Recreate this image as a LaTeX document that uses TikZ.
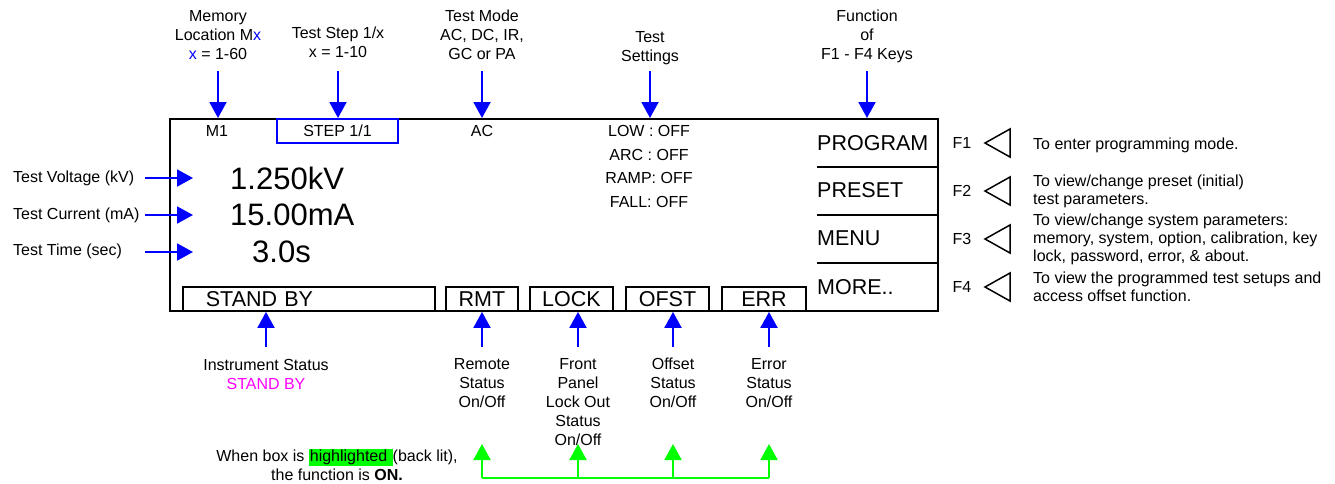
\documentclass[tikz,border=0pt]{standalone}
\usepackage{fontspec}
\setmainfont{Liberation Sans}
\usepackage{xcolor}
\usetikzlibrary{arrows.meta,calc}
\definecolor{arrblue}{HTML}{0000FF}
\definecolor{pink}{HTML}{FF00FF}
\definecolor{lit}{HTML}{00FF00}
\setlength{\fboxsep}{1pt}
\tikzset{
  frame/.style={draw=black, line width=2pt},
  stbox/.style={draw=black, line width=1.8pt, minimum height=24pt, inner sep=0pt, font=\fontsize{21.5}{24}\selectfont},
  barrow/.style={draw=arrblue, line width=2pt, -{Triangle[length=16pt,width=17pt]}},
  garrow/.style={draw=lit, line width=2pt, -{Triangle[length=16pt,width=17pt]}},
  gline/.style={draw=lit, line width=2pt},
  lab/.style={font=\fontsize{16}{18.8}\selectfont, align=center, inner sep=0pt},
  labl/.style={font=\fontsize{16}{18}\selectfont, align=left, anchor=west, inner sep=0pt},
  scrtxt/.style={font=\fontsize{16}{18}\selectfont, inner sep=0pt},
  big/.style={font=\fontsize{31}{36}\selectfont, anchor=west, inner sep=0pt},
  key/.style={font=\fontsize{21.5}{24}\selectfont, anchor=west, inner sep=0pt},
  tri/.style={draw=black, line width=1.5pt, line join=miter},
}

\begin{document}
\begin{tikzpicture}[x=1pt,y=-1pt]
  \useasboundingbox (0,0) rectangle (1335,483);

  \node[frame, minimum width=768pt, minimum height=192pt, inner sep=0pt] (screen) at (554,215) {};

  \node[lab] (memlab) at (218,35) {Memory\\Location M\textcolor{arrblue}{x}\\\textcolor{arrblue}{x} = 1-60};
  \node[lab] (steplab) at (338,42.5) {Test Step 1/x\\x = 1-10};
  \node[lab] (modelab) at (482,35) {Test Mode\\AC, DC, IR,\\GC or PA};
  \node[lab] (setlab) at (650,48.5) {Test\\Settings};
  \node[lab] (funlab) at (867,36.5) {Function\\of\\F1 - F4 Keys};

  \coordinate (tstart) at (0,71);
  \draw[barrow] (memlab |- tstart) -- (memlab |- screen.north);
  \draw[barrow] (steplab |- tstart) -- (steplab |- screen.north);
  \draw[barrow] (modelab |- tstart) -- (modelab |- screen.north);
  \draw[barrow] (setlab |- tstart) -- (setlab |- screen.north);
  \draw[barrow] (funlab |- tstart) -- (funlab |- screen.north);

  \node[scrtxt] (m1) at (217,131) {M1};
  \node[draw=arrblue, line width=2pt, minimum width=121pt, minimum height=24pt, inner sep=0pt, font=\fontsize{16}{18}\selectfont] (step) at (337.5,131) {STEP 1/1};
  \node[scrtxt] (ac) at (482,131) {AC};
  \node[scrtxt, align=center, font=\fontsize{16}{23.7}\selectfont] (sets) at (649,166.5) {LOW : OFF\\ARC : OFF\\RAMP: OFF\\FALL: OFF};

  \node[big] (volt) at (230,178) {1.250kV};
  \node[big] (curr) at (230,215) {15.00mA};
  \node[big] (time) at (252,252) {3.0s};

  \node[labl] (lv) at (13,178) {Test Voltage (kV)};
  \node[labl] (lc) at (13,215) {Test Current (mA)};
  \node[labl] (lt) at (13,251) {Test Time (sec)};
  \coordinate (lstart) at (145,0);
  \coordinate (lend) at (193,0);
  \draw[barrow] (lstart |- volt) -- (lend |- volt);
  \draw[barrow] (lstart |- curr) -- (lend |- curr);
  \draw[barrow] (lstart |- time) -- (lend |- time);

  \coordinate (dv1) at (817,167);
  \coordinate (dv2) at (817,215);
  \coordinate (dv3) at (817,263);
  \draw[frame] (dv1) -- (dv1 -| screen.east);
  \draw[frame] (dv2) -- (dv2 -| screen.east);
  \draw[frame] (dv3) -- (dv3 -| screen.east);
  \node[key] (prog) at (817,143) {PROGRAM};
  \node[key] (pres) at (817,190) {PRESET};
  \node[key] (menu) at (817,238) {MENU};
  \node[key] (more) at (817,287) {MORE..};

  \node[scrtxt] (f1) at (962,143) {F1};
  \node[scrtxt] (f2) at (962,191) {F2};
  \node[scrtxt] (f3) at (962,239) {F3};
  \node[scrtxt] (f4) at (962,287) {F4};
  \draw[tri] (985,143) -- ++(25,-14) -- ++(0,28) -- cycle;
  \draw[tri] (985,191) -- ++(25,-14) -- ++(0,28) -- cycle;
  \draw[tri] (985,239) -- ++(25,-14) -- ++(0,28) -- cycle;
  \draw[tri] (985,287) -- ++(25,-14) -- ++(0,28) -- cycle;
  \node[labl] (d1) at (1033,145) {To enter programming mode.};
  \node[labl] (d2) at (1033,191) {To view/change preset (initial)\\test parameters.};
  \node[labl] (d3) at (1033,239) {To view/change system parameters:\\memory, system, option, calibration, key\\lock, password, error, \& about.};
  \node[labl] (d4) at (1033,287) {To view the programmed test setups and\\access offset function.};

  \node[stbox, anchor=west, text width=206pt, inner xsep=23pt, align=left] (sb) at (182,299) {STAND BY};
  \node[stbox, minimum width=72pt] (rmt) at (482,299) {RMT};
  \node[stbox, minimum width=83pt] (lock) at (571.5,299) {LOCK};
  \node[stbox, minimum width=83pt] (ofst) at (667.5,299) {OFST};
  \node[stbox, minimum width=84pt] (err) at (764,299) {ERR};

  \node[lab] (inst) at (266,374.5) {Instrument Status\\\textcolor{pink}{STAND BY}};
  \node[lab] (rem) at (482,383) {Remote\\Status\\On/Off};
  \node[lab] (fpl) at (578,402) {Front\\Panel\\Lock Out\\Status\\On/Off};
  \node[lab] (offs) at (673,383) {Offset\\Status\\On/Off};
  \node[lab] (errs) at (769,383) {Error\\Status\\On/Off};

  \coordinate (bstart) at (0,347);
  \draw[barrow] (inst |- bstart) -- (inst |- sb.south);
  \draw[barrow] (rem |- bstart) -- (rem |- rmt.south);
  \draw[barrow] (fpl |- bstart) -- (fpl |- lock.south);
  \draw[barrow] (offs |- bstart) -- (offs |- ofst.south);
  \draw[barrow] (errs |- bstart) -- (errs |- err.south);

  \node[lab, font=\fontsize{16}{19}\selectfont] (note) at (337,465) {When box is \colorbox{lit}{highlighted }(back lit),\\the function is \textbf{ON.}};

  \coordinate (gbase) at (0,478);
  \coordinate (gtip) at (0,444);
  \draw[gline] (rem |- gbase) -- (errs |- gbase);
  \draw[garrow] (rem |- gbase) -- (rem |- gtip);
  \draw[garrow] (fpl |- gbase) -- (fpl |- gtip);
  \draw[garrow] (offs |- gbase) -- (offs |- gtip);
  \draw[garrow] (errs |- gbase) -- (errs |- gtip);
\end{tikzpicture}
\end{document}
